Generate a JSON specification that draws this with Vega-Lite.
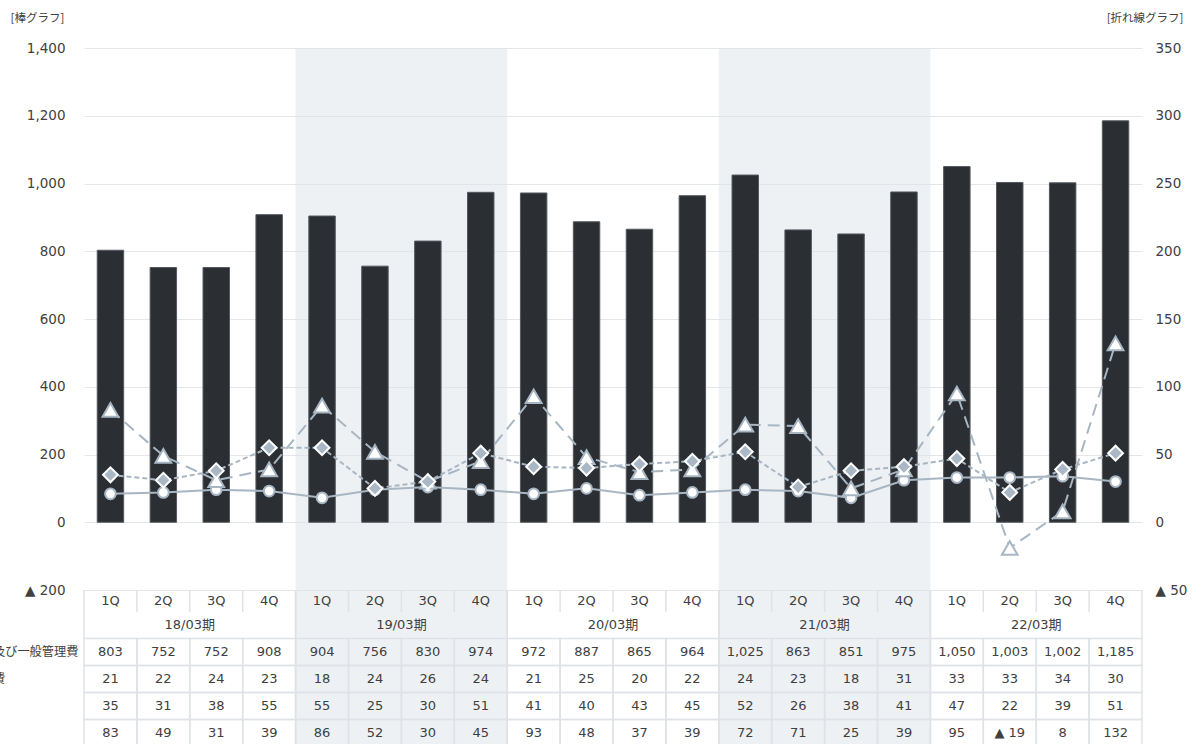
{
  "$schema": "https://vega.github.io/schema/vega-lite/v6.json",
  "autosize": {"type": "none"},
  "padding": {"left": 84, "top": 48, "right": 50, "bottom": 0},
  "width": 1058,
  "height": 696,
  "config": {
    "view": {"stroke": null},
    "font": "DejaVu Sans, Noto Sans CJK JP",
    "axis": {"labelFont": "DejaVu Sans, Noto Sans CJK JP", "titleFont": "Noto Sans CJK JP"}
  },
  "datasets": {
    "quarters": [
      {"period": "18/03期", "q": "1Q", "sga": 803, "rd": 21, "a": 35, "b": 83},
      {"period": "18/03期", "q": "2Q", "sga": 752, "rd": 22, "a": 31, "b": 49},
      {"period": "18/03期", "q": "3Q", "sga": 752, "rd": 24, "a": 38, "b": 31},
      {"period": "18/03期", "q": "4Q", "sga": 908, "rd": 23, "a": 55, "b": 39},
      {"period": "19/03期", "q": "1Q", "sga": 904, "rd": 18, "a": 55, "b": 86},
      {"period": "19/03期", "q": "2Q", "sga": 756, "rd": 24, "a": 25, "b": 52},
      {"period": "19/03期", "q": "3Q", "sga": 830, "rd": 26, "a": 30, "b": 30},
      {"period": "19/03期", "q": "4Q", "sga": 974, "rd": 24, "a": 51, "b": 45},
      {"period": "20/03期", "q": "1Q", "sga": 972, "rd": 21, "a": 41, "b": 93},
      {"period": "20/03期", "q": "2Q", "sga": 887, "rd": 25, "a": 40, "b": 48},
      {"period": "20/03期", "q": "3Q", "sga": 865, "rd": 20, "a": 43, "b": 37},
      {"period": "20/03期", "q": "4Q", "sga": 964, "rd": 22, "a": 45, "b": 39},
      {"period": "21/03期", "q": "1Q", "sga": 1025, "rd": 24, "a": 52, "b": 72},
      {"period": "21/03期", "q": "2Q", "sga": 863, "rd": 23, "a": 26, "b": 71},
      {"period": "21/03期", "q": "3Q", "sga": 851, "rd": 18, "a": 38, "b": 25},
      {"period": "21/03期", "q": "4Q", "sga": 975, "rd": 31, "a": 41, "b": 39},
      {"period": "22/03期", "q": "1Q", "sga": 1050, "rd": 33, "a": 47, "b": 95},
      {"period": "22/03期", "q": "2Q", "sga": 1003, "rd": 33, "a": 22, "b": -19},
      {"period": "22/03期", "q": "3Q", "sga": 1002, "rd": 34, "a": 39, "b": 8},
      {"period": "22/03期", "q": "4Q", "sga": 1185, "rd": 30, "a": 51, "b": 132}
    ]
  },
  "data": {"name": "quarters"},
  "transform": [{"calculate": "datum.period + ' ' + datum.q", "as": "key"}],
  "layer": [
    {
      "transform": [{"aggregate": [], "groupby": ["period"]}],
      "mark": {"type": "rect", "opacity": 0.5},
      "encoding": {
        "x": {"field": "period", "type": "nominal", "axis": null, "scale": {"paddingInner": 0, "paddingOuter": 0}},
        "fill": {"condition": {"test": "datum.period === '19/03期' || datum.period === '21/03期'", "value": "#dde3ea"}, "value": "transparent"}
      }
    },
    {
      "mark": {"type": "bar", "color": "#2b2f33", "stroke": "#54595f", "strokeWidth": 1},
      "encoding": {
        "x": {"field": "key", "type": "nominal", "axis": null, "scale": {"paddingInner": 0.5, "paddingOuter": 0.25}},
        "y": {
          "field": "sga", "type": "quantitative",
          "scale": {"domain": [-200, 1400], "range": [542, 0], "nice": false, "zero": false},
          "axis": {
            "orient": "left", "offset": 0,
            "values": [-200, 0, 200, 400, 600, 800, 1000, 1200, 1400],
            "labelExpr": "datum.value < 0 ? '▲ ' + format(-datum.value, ',') : format(datum.value, ',')",
            "domain": false, "ticks": false, "grid": true, "gridColor": "#e4e6e8", "gridWidth": 1.2,
            "labelPadding": 19, "labelFontSize": 13.5, "labelColor": "#404040", "labelOverlap": false,
            "title": "[棒グラフ]", "titleAngle": 0, "titleAlign": "left", "titleBaseline": "middle",
            "titleX": -74, "titleY": -30, "titleFontSize": 11.5, "titleFontWeight": "normal", "titleColor": "#404040"
          }
        }
      }
    },
    {
      "encoding": {
        "x": {"field": "key", "type": "nominal", "axis": null, "scale": {"paddingInner": 0.5, "paddingOuter": 0.25}}
      },
      "layer": [
        {
          "mark": {"type": "line", "color": "#a8b6c4", "strokeWidth": 2},
          "encoding": {
            "y": {
              "field": "rd", "type": "quantitative",
              "scale": {"domain": [-50, 350], "range": [542, 0], "nice": false, "zero": false},
              "axis": {
                "orient": "right", "offset": 0,
                "values": [-50, 0, 50, 100, 150, 200, 250, 300, 350],
                "labelExpr": "datum.value < 0 ? '▲ ' + format(-datum.value, ',') : format(datum.value, ',')",
                "domain": false, "ticks": false, "grid": false,
                "labelPadding": 13, "labelFontSize": 13.5, "labelColor": "#404040", "labelOverlap": false,
                "title": "[折れ線グラフ]", "titleAngle": 0, "titleAlign": "right", "titleBaseline": "middle",
                "titleX": 41, "titleY": -30, "titleFontSize": 11.5, "titleFontWeight": "normal", "titleColor": "#404040"
              }
            }
          }
        },
        {
          "mark": {"type": "point", "shape": "circle", "filled": true, "fill": "white", "stroke": "#a8b6c4", "strokeWidth": 2, "size": 115, "opacity": 1},
          "encoding": {"y": {"field": "rd", "type": "quantitative"}}
        },
        {
          "mark": {"type": "line", "color": "#a8b6c4", "strokeWidth": 2, "strokeDash": [12, 7]},
          "encoding": {"y": {"field": "b", "type": "quantitative"}}
        },
        {
          "mark": {"type": "point", "shape": "triangle-up", "filled": true, "fill": "white", "stroke": "#a8b6c4", "strokeWidth": 2, "size": 250, "opacity": 1},
          "encoding": {"y": {"field": "b", "type": "quantitative"}}
        },
        {
          "mark": {"type": "line", "color": "#a8b6c4", "strokeWidth": 2, "strokeDash": [5, 3]},
          "encoding": {"y": {"field": "a", "type": "quantitative"}}
        },
        {
          "mark": {"type": "point", "shape": "diamond", "filled": true, "fill": "#aab8c6", "stroke": "white", "strokeWidth": 2, "size": 220, "opacity": 1},
          "encoding": {"y": {"field": "a", "type": "quantitative"}}
        }
      ]
    },
    {
      "layer": [
        {
          "transform": [{"fold": ["sga", "rd", "a", "b"], "as": ["row", "value"]}],
          "mark": {"type": "rect", "fill": "transparent", "stroke": "#dfe2e6", "strokeWidth": 1.5},
          "encoding": {
            "x": {"field": "key", "type": "nominal", "axis": null, "scale": {"paddingInner": 0, "paddingOuter": 0}},
            "y": {
              "field": "row", "type": "nominal",
              "scale": {"domain": ["q", "period", "sga", "rd", "a", "b"], "range": [536.5, 698.5], "paddingInner": 0, "paddingOuter": 0},
              "axis": {
                "orient": "left", "offset": 0, "domain": false, "ticks": false, "grid": false, "title": null,
                "labelPadding": 128, "labelAlign": "left", "labelFontSize": 12.2, "labelColor": "#404040",
                "labelFont": "Noto Sans CJK JP", "labelLimit": 300,
                "labelExpr": "datum.value === 'sga' ? '販売費及び一般管理費' : datum.value === 'rd' ? '物流経費' : datum.value === 'a' ? '投資額' : datum.value === 'b' ? '営業益' : ''"
              }
            }
          }
        },
        {
          "transform": [
            {"fold": ["sga", "rd", "a", "b"], "as": ["row", "value"]},
            {"calculate": "datum.value < 0 ? '▲ ' + format(-datum.value, ',') : format(datum.value, ',')", "as": "label"}
          ],
          "mark": {"type": "text", "fontSize": 13, "color": "#404040"},
          "encoding": {
            "x": {"field": "key", "type": "nominal", "axis": null, "scale": {"paddingInner": 0, "paddingOuter": 0}},
            "y": {"field": "row", "type": "nominal"},
            "text": {"field": "label"}
          }
        },
        {
          "mark": {"type": "text", "fontSize": 13, "color": "#404040", "dy": 3},
          "encoding": {
            "x": {"field": "key", "type": "nominal", "axis": null, "scale": {"paddingInner": 0, "paddingOuter": 0}},
            "y": {"datum": "q", "type": "nominal"},
            "text": {"field": "q"}
          }
        },
        {
          "mark": {"type": "tick", "orient": "vertical", "size": 22, "thickness": 1.5, "color": "#dfe2e6", "opacity": 1, "yOffset": 3},
          "encoding": {
            "x": {"field": "key", "type": "nominal", "axis": null, "bandPosition": 0, "scale": {"paddingInner": 0, "paddingOuter": 0}},
            "y": {"datum": "q", "type": "nominal"}
          }
        },
        {
          "transform": [{"aggregate": [], "groupby": ["period"]}],
          "mark": {"type": "tick", "orient": "vertical", "size": 22, "thickness": 1.5, "color": "#dfe2e6", "opacity": 1, "yOffset": 3},
          "encoding": {
            "x": {"field": "period", "type": "nominal", "axis": null, "bandPosition": 1, "scale": {"paddingInner": 0, "paddingOuter": 0}},
            "y": {"datum": "q", "type": "nominal"}
          }
        },
        {
          "transform": [{"aggregate": [], "groupby": ["period"]}],
          "mark": {"type": "tick", "orient": "vertical", "size": 27, "thickness": 1.5, "color": "#dfe2e6", "opacity": 1},
          "encoding": {
            "x": {"field": "period", "type": "nominal", "axis": null, "bandPosition": 0, "scale": {"paddingInner": 0, "paddingOuter": 0}},
            "y": {"datum": "period", "type": "nominal"}
          }
        },
        {
          "transform": [{"aggregate": [], "groupby": ["period"]}],
          "mark": {"type": "tick", "orient": "vertical", "size": 27, "thickness": 1.5, "color": "#dfe2e6", "opacity": 1},
          "encoding": {
            "x": {"field": "period", "type": "nominal", "axis": null, "bandPosition": 1, "scale": {"paddingInner": 0, "paddingOuter": 0}},
            "y": {"datum": "period", "type": "nominal"}
          }
        },
        {
          "transform": [{"aggregate": [], "groupby": ["period"]}],
          "mark": {"type": "text", "fontSize": 13, "color": "#404040"},
          "encoding": {
            "x": {"field": "period", "type": "nominal", "axis": null, "scale": {"paddingInner": 0, "paddingOuter": 0}},
            "y": {"datum": "period", "type": "nominal"},
            "text": {"field": "period"}
          }
        }
      ],
      "resolve": {"scale": {"x": "independent"}}
    }
  ],
  "resolve": {"scale": {"x": "independent", "y": "independent"}}
}
